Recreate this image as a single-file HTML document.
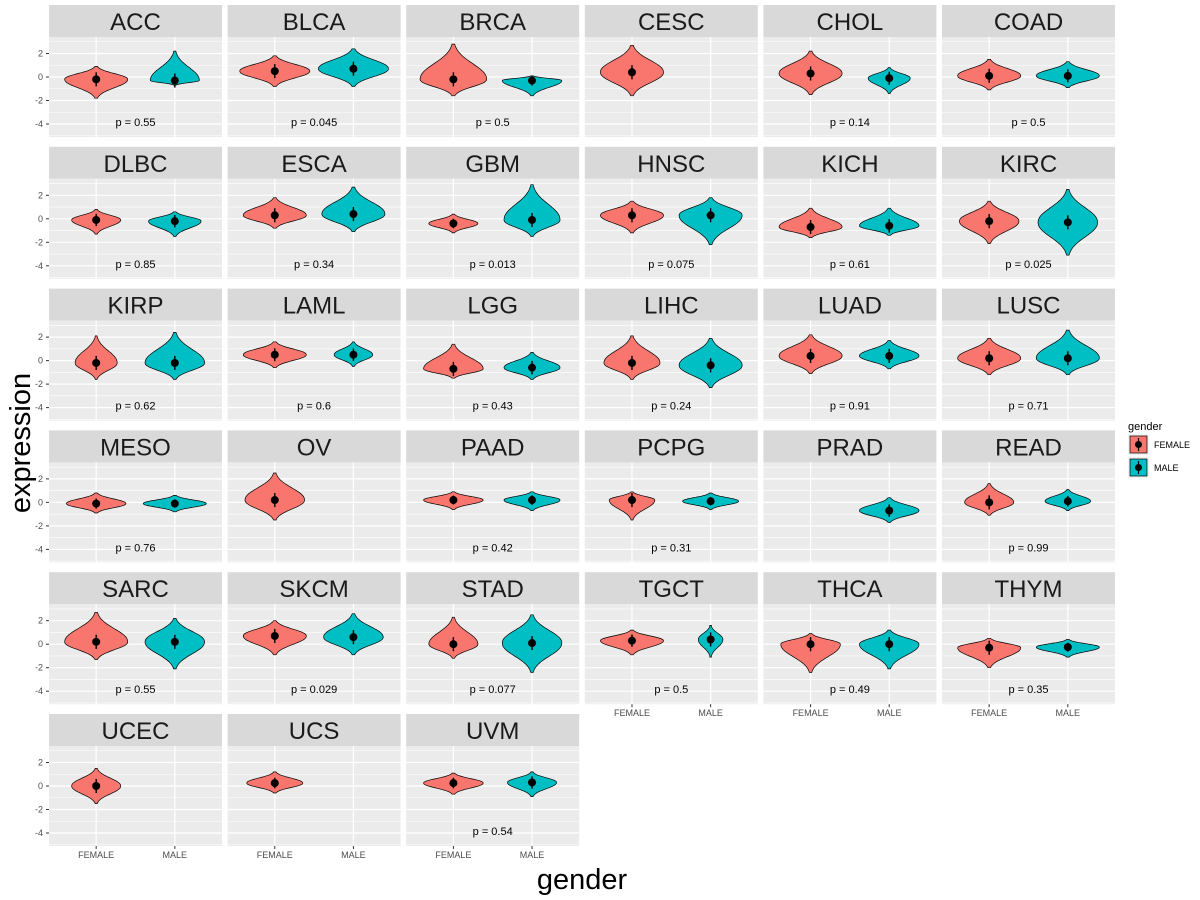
<!DOCTYPE html>
<html><head><meta charset="utf-8">
<style>
body{margin:0;background:#fff;}
svg{display:block;font-family:"Liberation Sans",sans-serif;}
</style></head>
<body>
<svg id="chart" width="1200" height="900" viewBox="0 0 1200 900"></svg>
<script>
const cancers=["ACC","BLCA","BRCA","CESC","CHOL","COAD","DLBC","ESCA","GBM","HNSC","KICH","KIRC","KIRP","LAML","LGG","LIHC","LUAD","LUSC","MESO","OV","PAAD","PCPG","PRAD","READ","SARC","SKCM","STAD","TGCT","THCA","THYM","UCEC","UCS","UVM"];
// [low, high, center, relative width]
const female=[[-1.8,0.9,-0.2,0.9],[-0.8,1.8,0.5,1],[-1.6,2.8,-0.2,0.95],[-1.6,2.7,0.4,0.9],[-1.5,2.2,0.3,0.9],[-1.1,1.5,0.1,0.9],
[-1.3,0.8,-0.1,0.7],[-0.8,1.8,0.3,0.9],[-1.2,0.4,-0.4,0.7],[-1.2,1.5,0.3,0.9],[-1.6,0.9,-0.7,0.9],[-2.1,1.5,-0.2,0.85],
[-1.6,2.1,-0.2,0.6],[-0.6,1.6,0.5,0.9],[-1.5,1.4,-0.7,0.85],[-1.6,2.1,-0.2,0.8],[-1.1,2.2,0.4,0.9],[-1.2,1.9,0.2,0.9],
[-0.9,0.8,-0.1,0.85],[-1.5,2.5,0.2,0.85],[-0.6,0.9,0.2,0.85],[-1.5,0.9,0.2,0.65],null,[-1.1,1.6,0,0.7],
[-1.3,2.7,0.2,0.9],[-0.9,2.0,0.7,0.9],[-1.2,2.3,0,0.7],[-0.9,1.2,0.3,0.9],[-2.4,0.9,0,0.85],[-2.0,0.5,-0.3,0.9],
[-1.5,1.5,0,0.7],[-0.6,1.2,0.25,0.8],[-0.7,1.1,0.25,0.85]];
const male=[[-0.7,2.2,-0.3,0.7],[-0.8,2.4,0.7,1],[-1.6,0.1,-0.3,0.85],null,[-1.4,0.8,-0.1,0.6],[-0.9,1.3,0.1,0.9],
[-1.5,0.6,-0.2,0.75],[-1.1,2.7,0.4,0.9],[-1.5,2.9,-0.1,0.8],[-2.2,1.8,0.3,0.9],[-1.4,0.9,-0.6,0.85],[-3.1,2.5,-0.3,0.85],
[-1.6,2.4,-0.2,0.85],[-0.5,1.6,0.5,0.55],[-1.6,0.7,-0.6,0.8],[-2.3,1.9,-0.4,0.9],[-0.7,1.7,0.4,0.85],[-1.2,2.6,0.2,0.9],
[-0.8,0.6,-0.1,0.9],null,[-0.7,0.9,0.2,0.8],[-0.6,0.8,0.1,0.8],[-1.7,0.4,-0.7,0.85],[-0.7,1.1,0.1,0.65],
[-2.1,2.2,0.2,0.85],[-0.9,2.6,0.6,0.85],[-2.4,2.5,0.1,0.85],[-1.1,1.6,0.4,0.35],[-2.1,1.2,0,0.85],[-1.1,0.4,-0.25,0.9],
null,null,[-0.9,1.2,0.3,0.7]];
const pvals=["0.55","0.045","0.5","","0.14","0.5","0.85","0.34","0.013","0.075","0.61","0.025","0.62","0.6","0.43","0.24","0.91","0.71","0.76","","0.42","0.31","","0.99","0.55","0.029","0.077","0.5","0.49","0.35","","","0.54"];
const yTicks=[2,0,-2,-4];
const yMinor=[3,1,-1,-3,-5];
const groups=["FEMALE","MALE"];

const NS="http://www.w3.org/2000/svg";
const svg=document.getElementById("chart");
function mk(tag,attrs,parent){const e=document.createElementNS(NS,tag);for(const k in attrs)e.setAttribute(k,attrs[k]);(parent||svg).appendChild(e);return e;}
const PW=173,PH=100,SH=32,UNIT=11.75;
function colX(c){return 49+c*178.6;}
function rowY(r){return 5+r*141.8;}
const colors=["#F8766D","#00BFC4"];
cancers.forEach((name,i)=>{
  const r=Math.floor(i/6),c=i%6;
  const x0=colX(c),s0=rowY(r),p0=s0+SH;
  const ys=v=>p0+40-v*UNIT;
  const xs=g=>x0+(g-0.4)/2.2*PW;
  const g=mk("g",{},svg);
  
  
  const strip=mk("rect",{x:x0,y:s0,width:PW,height:SH,fill:"#D9D9D9"},g);
  
  
  const st=mk("text",{x:x0+PW/2,y:s0+25,"text-anchor":"middle","font-size":"24",fill:"#1a1a1a"},g);
  st.textContent=name;
  
  
  mk("rect",{x:x0,y:p0,width:PW,height:PH,fill:"#EBEBEB"},g);
  yMinor.forEach(v=>mk("line",{x1:x0,x2:x0+PW,y1:ys(v),y2:ys(v),stroke:"#fff","stroke-width":0.6},g));
  yTicks.forEach(v=>mk("line",{x1:x0,x2:x0+PW,y1:ys(v),y2:ys(v),stroke:"#fff","stroke-width":1.2},g));
  [0,1].forEach(k=>mk("line",{x1:xs(k+1),x2:xs(k+1),y1:p0,y2:p0+PH,stroke:"#fff","stroke-width":1.2},g));
  [female[i],male[i]].forEach((d,k)=>{
    if(!d)return;
    const [lo,hi,ce,w]=d;const cx=xs(k+1);const W=35*w;
    const N=50;const left=[],right=[];
    for(let j=0;j<=N;j++){
      const v=lo+(hi-lo)*j/N;
      const t=v>=ce?(v-ce)/(hi-ce||1):(ce-v)/(ce-lo||1);
      const hw=Math.max(0.8,W*Math.exp(-3.2*Math.pow(t,2.2)));
      left.push([cx-hw,ys(v)]);right.push([cx+hw,ys(v)]);
    }
    const pts=left.concat(right.reverse());
    const path=mk("path",{d:"M"+pts.map(p=>p[0].toFixed(1)+","+p[1].toFixed(1)).join("L")+"Z",fill:colors[k],stroke:"#000","stroke-width":0.7},g);
    
    
    const sd=Math.min(0.6,(hi-lo)/4);
    mk("line",{x1:cx,x2:cx,y1:ys(ce-sd),y2:ys(ce+sd),stroke:"#000","stroke-width":1.4},g);
    const pt=mk("circle",{cx:cx,cy:ys(ce),r:4,fill:"#000"},g);
    
    
  });
  if(pvals[i]){
    const pt=mk("text",{x:xs(1.5),y:ys(-3.83)+4,"text-anchor":"middle","font-size":"11",fill:"#000"},g);
    pt.textContent="p = "+pvals[i];
    
    
  }
  if(c===0){
    yTicks.forEach(v=>{
      const t=mk("text",{x:x0-6,y:ys(v)+3,"text-anchor":"end","font-size":"9",fill:"#4d4d4d"},svg);
      t.textContent=v;
      
      
      mk("line",{x1:x0-3,x2:x0,y1:ys(v),y2:ys(v),stroke:"#333"},svg);
    });
  }
  const bottom=(r===5)||(r===4&&c>=3);
  if(bottom){
    groups.forEach((gname,k)=>{
      mk("line",{x1:xs(k+1),x2:xs(k+1),y1:p0+PH,y2:p0+PH+3,stroke:"#333"},svg);
      const t=mk("text",{x:xs(k+1),y:p0+PH+12,"text-anchor":"middle","font-size":"9",fill:"#4d4d4d"},svg);
      t.textContent=gname;
      
      
    });
  }
});
const yt=mk("text",{x:0,y:0,transform:"translate(30,443) rotate(-90)","text-anchor":"middle","font-size":"29",fill:"#000"});
yt.textContent="expression";


const xt=mk("text",{x:582,y:889,"text-anchor":"middle","font-size":"29",fill:"#000"});
xt.textContent="gender";


const lg=mk("g",{});


const lt=mk("text",{x:1128,y:430,"font-size":"11",fill:"#000"},lg);
lt.textContent="gender";
groups.forEach((gname,k)=>{
  const y=434+k*23;
  mk("rect",{x:1128,y:y,width:21,height:21,fill:"#F2F2F2"},lg);
  mk("rect",{x:1130,y:y+2,width:17,height:17,fill:colors[k],stroke:"#000","stroke-width":0.7},lg);
  mk("line",{x1:1138.5,x2:1138.5,y1:y+4,y2:y+17,stroke:"#000","stroke-width":1.2},lg);
  mk("circle",{cx:1138.5,cy:y+10.5,r:3.5,fill:"#000"},lg);
  const t=mk("text",{x:1154,y:y+14,"font-size":"9",fill:"#000"},lg);
  t.textContent=gname;
  
  
});
</script>
</body></html>
